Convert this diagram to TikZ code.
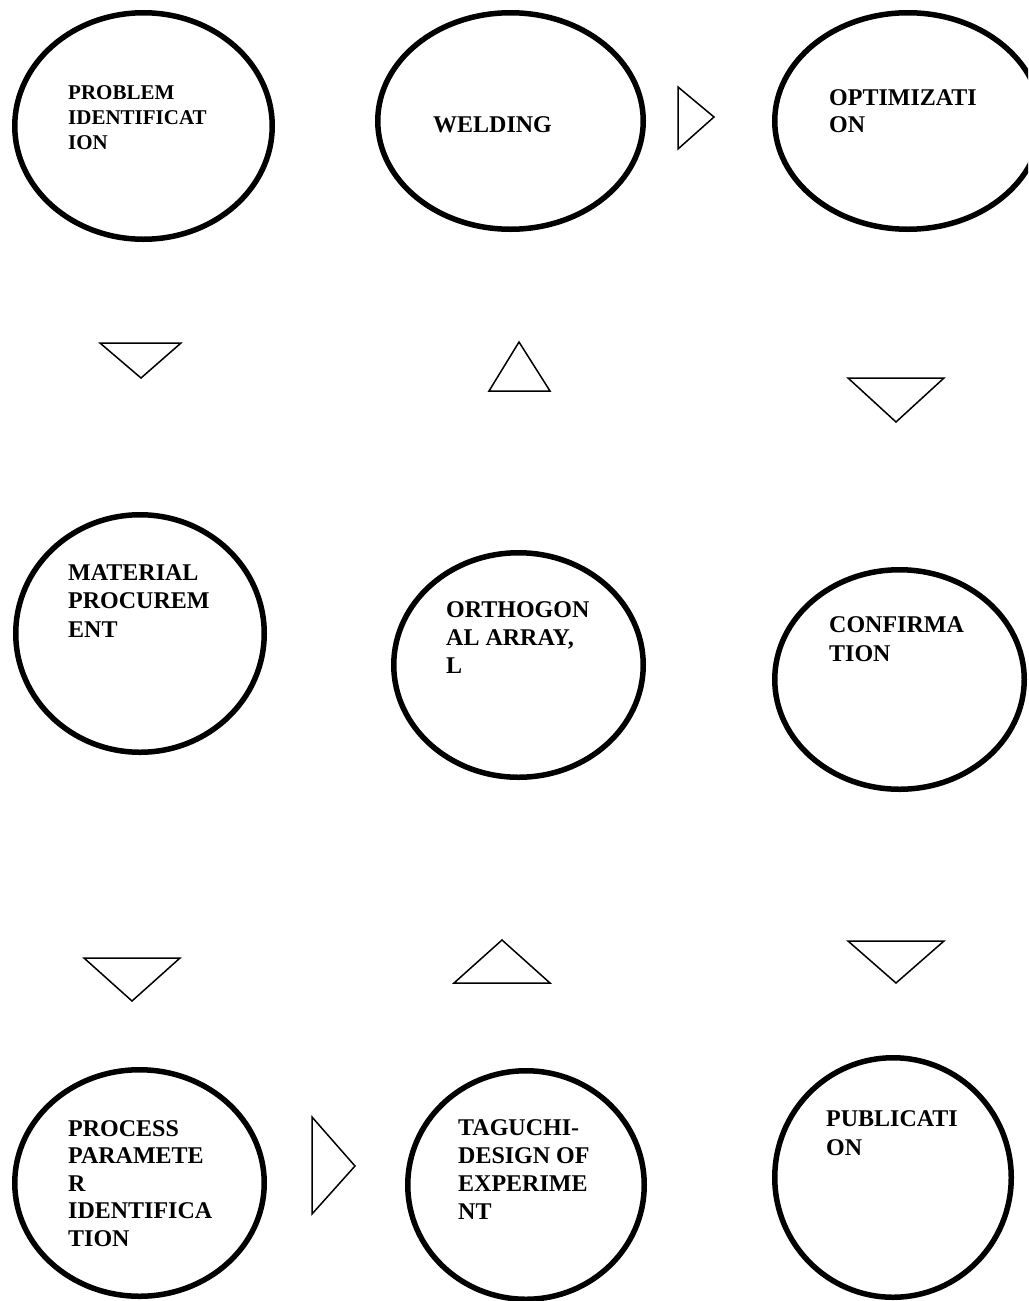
\documentclass[tikz,border=0pt]{standalone}
\usepackage{fontspec}
\setmainfont{Liberation Serif}
\usetikzlibrary{shapes.geometric}
\newcommand\stk[2]{\vtop{\baselineskip=#1pt\lineskiplimit=-100pt\lineskip=0pt\relax #2}}
\tikzset{
  oval/.style={ellipse, draw=black, line width=5.5pt, inner sep=0pt},
  lbl/.style={anchor=base west, inner sep=0pt, font=\fontsize{24}{27}\selectfont\bfseries},
  lblsmall/.style={lbl, font=\fontsize{21}{25}\selectfont\bfseries},
  tri/.style={draw=black, line width=1.5pt, line join=miter},
}
\begin{document}
\begin{tikzpicture}[x=1pt, y=-1pt]
\useasboundingbox (0,0) rectangle (1028,1301);
\clip (0,0) rectangle (1028,1301);
% ovals
\node[oval, minimum width=257.5pt, minimum height=226.5pt] (e1) at (143.5,126) {};
\node[oval, minimum width=265.5pt, minimum height=216.5pt] (e2) at (510.5,121) {};
\node[oval, minimum width=266.5pt, minimum height=216.5pt] (e3) at (908,121) {};
\node[oval, minimum width=248.5pt, minimum height=237.5pt] (e4) at (140,633.5) {};
\node[oval, minimum width=249.5pt, minimum height=224.5pt] (e5) at (518.5,665) {};
\node[oval, minimum width=249.5pt, minimum height=219.5pt] (e6) at (899.5,679.5) {};
\node[oval, minimum width=249.5pt, minimum height=226.5pt] (e7) at (139.5,1183) {};
\node[oval, minimum width=236.5pt, minimum height=228.5pt] (e8) at (526,1185) {};
\node[oval, minimum width=236.5pt, minimum height=239.5pt] (e9) at (893,1177.5) {};
% labels
\node[lblsmall] (t1) at (68,99) {\stk{25}{\hbox{PROBLEM}\hbox{IDENTIFICAT}\hbox{ION}}};
\node[lbl] (t2) at (433,132) {WELDING};
\node[lbl] (t3) at (829,105) {\stk{27}{\hbox{OPTIMIZATI}\hbox{ON}}};
\node[lbl] (t4) at (68,580) {\stk{28.5}{\hbox{MATERIAL}\hbox{PROCUREM}\hbox{ENT}}};
\node[lbl] (t5) at (446,617) {\stk{28}{\hbox{ORTHOGON}\hbox{AL ARRAY,}\hbox{L}}};
\node[lbl] (t6) at (829,632) {\stk{29}{\hbox{CONFIRMA}\hbox{TION}}};
\node[lbl] (t7) at (68,1136) {\stk{27.5}{\hbox{PROCESS}\hbox{PARAMETE}\hbox{R}\hbox{IDENTIFICA}\hbox{TION}}};
\node[lbl] (t8) at (458,1135) {\stk{28.3}{\hbox{TAGUCHI-}\hbox{DESIGN OF}\hbox{EXPERIME}\hbox{NT}}};
\node[lbl] (t9) at (826,1126) {\stk{29}{\hbox{PUBLICATI}\hbox{ON}}};
% triangles
\draw[tri] (678,87) -- (678,149) -- (714,117) -- cycle;
\draw[tri] (100,343) -- (181,343) -- (141,378) -- cycle;
\draw[tri] (519,342) -- (550,391) -- (489,391) -- cycle;
\draw[tri] (848,378) -- (944,378) -- (896,422) -- cycle;
\draw[tri] (84,958) -- (180,958) -- (132,1001) -- cycle;
\draw[tri] (502,940) -- (550,983) -- (454,983) -- cycle;
\draw[tri] (848,941) -- (944,941) -- (896,983) -- cycle;
\draw[tri] (312,1117) -- (312,1214) -- (355,1166) -- cycle;
\end{tikzpicture}
\end{document}
